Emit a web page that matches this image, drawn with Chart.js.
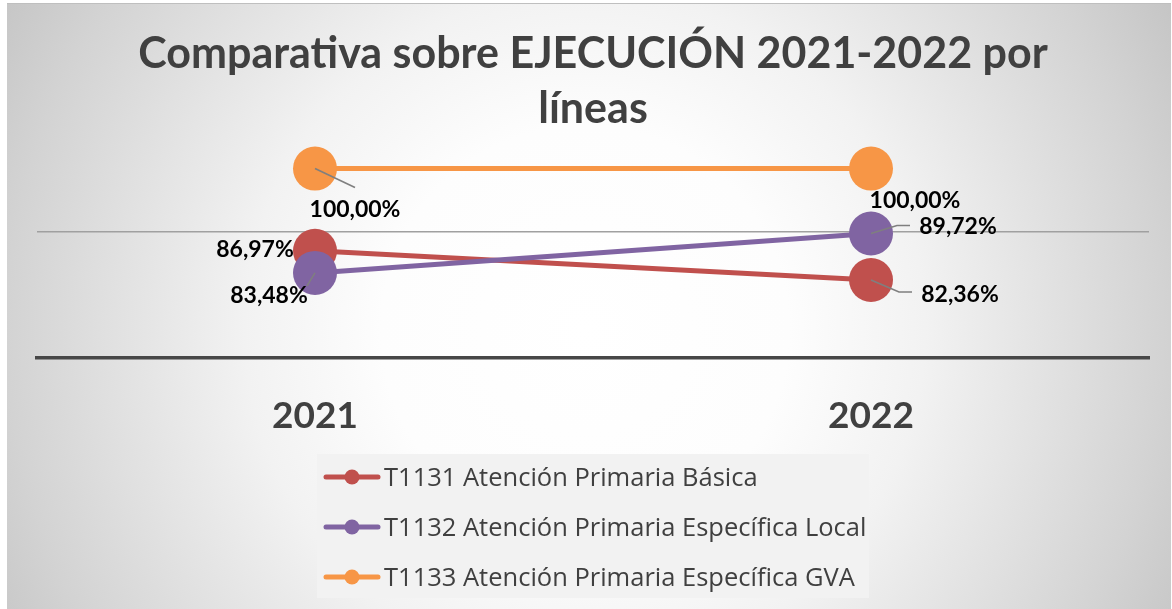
<!DOCTYPE html>
<html>
<head>
<meta charset="utf-8">
<script src="https://cdn.jsdelivr.net/npm/chart.js@4/dist/chart.umd.min.js"></script>
<style>
  html, body { margin: 0; padding: 0; background: #ffffff; }
  #wrap { width: 1172px; height: 609px; position: relative; }
  canvas { display: block; }
</style>
</head>
<body>
<div id="wrap"><canvas id="c" width="1172" height="609"></canvas></div>
<script>
// ---- data ----
const categories = ['2021', '2022'];
const seriesNames = [
  'T1131 Atención Primaria Básica',
  'T1132 Atención Primaria Específica Local',
  'T1133 Atención Primaria Específica GVA'
];
const basicaValues = [86.97, 82.36];
const localValues = [83.48, 89.72];
const gvaValues = [100.00, 100.00];
const yTickValues = [70, 90];
const titleLines = ['Comparativa sobre EJECUCIÓN 2021-2022 por', 'líneas'];

// ---- styles ----
const COLORS = ['#C0504D', '#8064A2', '#F79646'];
const FONT = 'Lato, "Open Sans", sans-serif';
const LEGEND_FONT = '"Open Sans", Lato, sans-serif';

// label placement (offsets from the point centre, px) per dataset per category
const labelOffsets = [
  [{dx: -60, dy: 6}, {dx: 89, dy: 22}],
  [{dx: -46, dy: 30}, {dx: 87, dy: 1}],
  [{dx: 40, dy: 48}, {dx: 44, dy: 39}]
];
const leaderLines = [
  [null, [[0,0],[28,12],[41,12]]],
  [[[0,0],[-8,13]], [[0,0],[26,-8],[39,-8]]],
  [[[0,0],[40,19]], null]
];

const bgPlugin = {
  id: 'bg',
  beforeDraw(chart) {
    const ctx = chart.ctx;
    ctx.save();
    ctx.fillStyle = '#ffffff';
    ctx.fillRect(0, 0, chart.width, chart.height);
    const g = ctx.createRadialGradient(585, 330, 0, 585, 330, 680);
    g.addColorStop(0, '#ffffff');
    g.addColorStop(0.3, '#fdfdfd');
    g.addColorStop(0.5, '#f2f2f2');
    g.addColorStop(0.85, '#d3d3d3');
    g.addColorStop(1, '#c4c4c4');
    ctx.fillStyle = g;
    ctx.fillRect(7, 3, 1164, 606);
    ctx.strokeStyle = '#bfbfbf';
    ctx.lineWidth = 1;
    ctx.beginPath();
    ctx.moveTo(7, 3.5); ctx.lineTo(1171, 3.5);
    ctx.stroke();
    ctx.restore();
  }
};

const labelPlugin = {
  id: 'valLabels',
  afterDatasetsDraw(chart) {
    const ctx = chart.ctx;
    ctx.save();
    chart.data.datasets.forEach((ds, di) => {
      const meta = chart.getDatasetMeta(di);
      meta.data.forEach((pt, i) => {
        const lines = leaderLines[di][i];
        if (lines) {
          ctx.strokeStyle = '#7f7f7f';
          ctx.lineWidth = 1.6;
          ctx.beginPath();
          lines.forEach((p, k) => {
            if (k === 0) ctx.moveTo(pt.x + p[0], pt.y + p[1]);
            else ctx.lineTo(pt.x + p[0], pt.y + p[1]);
          });
          ctx.stroke();
        }
      });
    });
    chart.data.datasets.forEach((ds, di) => {
      const meta = chart.getDatasetMeta(di);
      meta.data.forEach((pt, i) => {
        const off = labelOffsets[di][i];
        const txt = ds.data[i].toFixed(2).replace('.', ',') + '%';
        ctx.font = 'bold 23px ' + FONT;
        ctx.fillStyle = '#000000';
        ctx.textAlign = 'center';
        ctx.textBaseline = 'alphabetic';
        ctx.fillText(txt, pt.x + off.dx, pt.y + off.dy);
      });
    });
    ctx.restore();
  }
};

const legendPlugin = {
  id: 'customLegend',
  afterDraw(chart) {
    const ctx = chart.ctx;
    ctx.save();
    ctx.fillStyle = '#f2f2f2';
    ctx.fillRect(317, 454, 552, 144);
    const rows = [477, 527, 577];
    seriesNames.forEach((name, i) => {
      const y = rows[i];
      ctx.strokeStyle = COLORS[i];
      ctx.lineWidth = 5;
      ctx.lineCap = 'round';
      ctx.beginPath();
      ctx.moveTo(326, y); ctx.lineTo(378, y);
      ctx.stroke();
      ctx.fillStyle = COLORS[i];
      ctx.beginPath();
      ctx.arc(352, y, 7.5, 0, Math.PI * 2);
      ctx.fill();
      ctx.fillStyle = '#404040';
      ctx.font = '25.5px ' + LEGEND_FONT;
      ctx.textAlign = 'left';
      ctx.textBaseline = 'alphabetic';
      ctx.fillText(name, 384, y + 9);
    });
    ctx.restore();
  }
};

const seriesValues = [basicaValues, localValues, gvaValues];
const datasets = seriesValues.map((vals, i) => ({
  label: seriesNames[i],
  data: vals,
  borderColor: COLORS[i],
  backgroundColor: COLORS[i],
  pointBackgroundColor: COLORS[i],
  pointBorderColor: COLORS[i],
  pointBorderWidth: 0,
  pointRadius: 22,
  pointHoverRadius: 22,
  borderWidth: 5,
  tension: 0,
  clip: false,
  order: [2, 1, 0][i]
}));

new Chart(document.getElementById('c'), {
  type: 'line',
  data: { labels: categories, datasets },
  options: {
    responsive: false,
    animation: false,
    devicePixelRatio: 1,
    layout: { padding: { left: 37, right: 23, top: 0, bottom: 0 } },
    plugins: {
      legend: { display: false },
      tooltip: { enabled: false },
      title: {
        display: true,
        text: titleLines,
        color: '#404040',
        font: { family: FONT, size: 43, weight: 'bold', lineHeight: '55px' },
        padding: { top: 27, bottom: 0 }
      }
    },
    scales: {
      x: {
        offset: true,
        grid: { display: false, drawTicks: false },
        border: { display: true, color: '#474747', width: 3.5 },
        ticks: {
          color: '#404040',
          padding: 36,
          font: { family: FONT, size: 37, weight: 'bold' }
        },
        afterFit(scale) { scale.height = 251; }
      },
      y: {
        min: 70,
        max: 105,
        afterBuildTicks(scale) { scale.ticks = yTickValues.map(v => ({ value: v })); },
        ticks: { display: false },
        border: { display: false },
        grid: {
          drawTicks: false,
          lineWidth: 1.6,
          color: (c) => (c.tick && c.tick.value === 90) ? '#a0a0a0' : 'rgba(0,0,0,0)'
        },
        afterFit(scale) { scale.width = 0; }
      }
    }
  },
  plugins: [bgPlugin, labelPlugin, legendPlugin]
});
</script>
</body>
</html>
